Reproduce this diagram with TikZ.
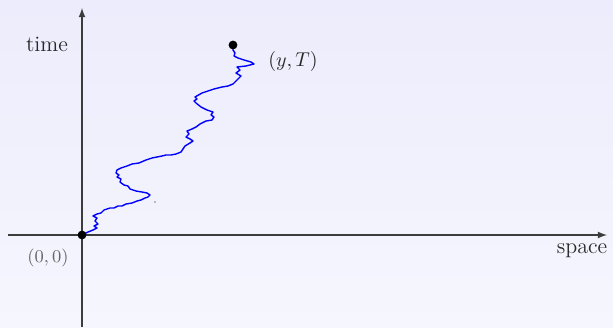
\documentclass[tikz,border=0pt]{standalone}
\usepackage{xcolor}
\usetikzlibrary{arrows}

\definecolor{bgtop}{RGB}{236,236,252}
\definecolor{bgbottom}{RGB}{246,246,254}
\definecolor{axisgray}{RGB}{60,60,60}
\definecolor{labelgray}{RGB}{40,40,40}

\begin{document}
\begin{tikzpicture}[
    x=0.5pt, y=0.5pt,
    axis/.style={-latex, line width=0.6pt, draw=axisgray},
    walk/.style={draw=blue, line width=0.7pt, line join=round},
    label/.style={text=labelgray, font=\normalsize},
    dot/.style={circle, fill=black, inner sep=0pt, minimum size=4.4pt}
]
    % background
    \shade [top color=bgtop, bottom color=bgbottom] (-82,-92) rectangle (531,235);
    \useasboundingbox (-82,-92) rectangle (531,235);

    % axes
    \coordinate (west) at (-74,0);
    \coordinate (east) at (525,0);
    \coordinate (south) at (0,-92);
    \coordinate (north) at (0,227);
    \draw [axis] (west) -- (east);
    \draw [axis] (south) -- (north);

    % brownian path
    \coordinate (start) at (0,0);
    \coordinate (stop) at (151,190);
    \draw [walk] (start)
        -- (6,3) -- (11,5) -- (15,7) -- (12,9) -- (16,11) -- (13,14) -- (15,17)
        -- (11,19) -- (15,21) -- (19,22) -- (22,25) -- (28,27) -- (32,27) -- (36,29)
        -- (40,29) -- (44,31) -- (50,32) -- (55,34) -- (59,35) -- (63,37) -- (66,38)
        -- (68,40) -- (65,42) -- (60,43) -- (54,44) -- (48,46) -- (46,49) -- (42,50)
        -- (38,53) -- (39,56) -- (35,58) -- (37,60) -- (34,62) -- (35,65) -- (39,67)
        -- (45,69) -- (50,71) -- (57,72) -- (64,75) -- (70,77) -- (75,78) -- (80,79)
        -- (84,80) -- (89,80) -- (94,81) -- (99,83) -- (101,86) -- (103,89) -- (108,92)
        -- (111,94) -- (108,96) -- (104,98) -- (107,101) -- (105,104) -- (110,106)
        -- (114,108) -- (118,111) -- (124,114) -- (130,115) -- (132,118) -- (129,120)
        -- (131,123) -- (125,125) -- (119,128) -- (114,132) -- (112,134) -- (115,136)
        -- (113,138) -- (120,142) -- (126,144) -- (132,146) -- (140,148) -- (146,149)
        -- (151,151) -- (155,155) -- (159,159) -- (154,162) -- (158,165) -- (155,168)
        -- (164,169) -- (172,171) -- (169,173) -- (162,175) -- (156,177) -- (152,179)
        -- (153,182) -- (151,185) -- (stop);

    \node [dot] (origin) at (start) {};
    \node [dot] (final) at (stop) {};
    \node [circle, fill=gray, inner sep=0pt, minimum size=0.8pt] (speck) at (73,33) {};

    \node [label, font=\fontsize{11}{13}\selectfont] (time) at (-35,191) {time};
    \node [label, font=\fontsize{11}{13}\selectfont] (space) at (500,-16) {space};
    \node [label, text=gray!80!black, font=\small] (zero) at (-34,-23) {$(0,0)$};
    \node [label] (yT) at (211,174) {$(y,T)$};
\end{tikzpicture}
\end{document}
